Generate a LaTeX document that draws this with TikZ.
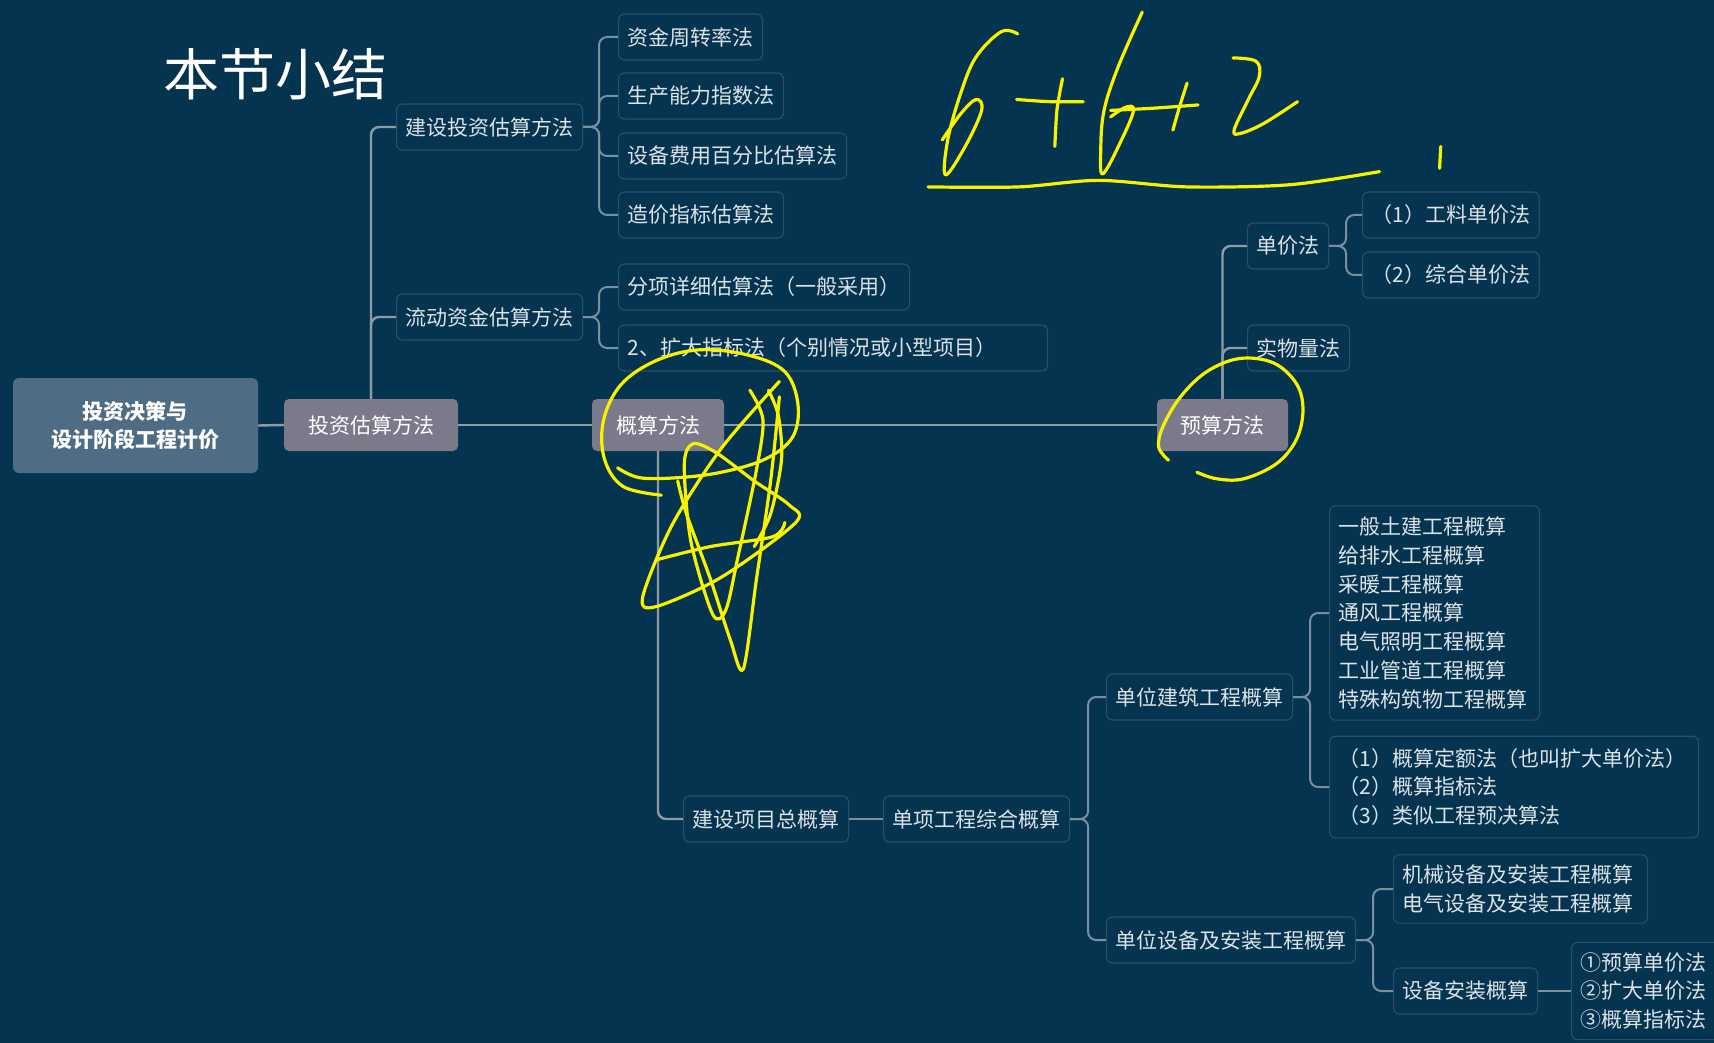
\documentclass[tikz,border=0pt]{standalone}
\usepackage{fontspec}
\setmainfont{Noto Sans CJK SC}
\definecolor{bg}{HTML}{053450}
\definecolor{rootc}{HTML}{4E6D84}
\definecolor{grayc}{HTML}{7B7A8B}
\definecolor{boxc}{HTML}{2A4F6B}
\definecolor{txtc}{HTML}{DCE2E7}
\definecolor{linec}{HTML}{8D9BA5}
\definecolor{brc}{HTML}{7890A0}
\definecolor{inkc}{HTML}{F6F200}
\tikzset{
  lvlroot/.style={fill=rootc, rounded corners=6pt, text=white, font=\fontsize{21}{28}\selectfont\bfseries, align=center, minimum width=245pt, minimum height=95pt},
  lvlone/.style={fill=grayc, rounded corners=5pt, text=white, font=\fontsize{21}{26}\selectfont, minimum height=52pt},
  subbox/.style={draw=boxc, line width=1.1pt, rounded corners=6pt, text=txtc, font=\fontsize{21}{28.8}\selectfont, minimum height=46pt, inner xsep=9pt, anchor=west},
  multibox/.style={subbox, align=left},
  conn/.style={draw=linec, line width=2.4pt, rounded corners=8pt},
  brline/.style={draw=brc, line width=2pt, rounded corners=8pt},
  ink/.style={draw=inkc, line width=3.2pt, line cap=round, line join=round},
}
\begin{document}
\begin{tikzpicture}[x=1pt,y=-1pt]
\clip (0,0) rectangle (1714,1043);
\fill[bg] (0,0) rectangle (1714,1043);

% title
\node[font=\fontsize{56}{60}\selectfont, text=white] (title) at (275,74) {本节小结};

% main nodes
\node[lvlroot] (root) at (135.5,425.5) {投资决策与\\设计阶段工程计价};
\node[lvlone, minimum width=174pt] (ts) at (371,425) {投资估算方法};
\node[lvlone, minimum width=132pt] (gs) at (658,425) {概算方法};
\node[lvlone, minimum width=131pt] (ys) at (1222.5,425) {预算方法};

% investment estimate subtree
\node[subbox] (jstz) at (396,127) {建设投资估算方法};
\node[subbox] (ldzj) at (396,317) {流动资金估算方法};
\node[subbox] (c1) at (618,37) {资金周转率法};
\node[subbox] (c2) at (618,96) {生产能力指数法};
\node[subbox] (c3) at (618,156) {设备费用百分比估算法};
\node[subbox] (c4) at (618,215) {造价指标估算法};
\node[subbox] (d1) at (618,287) {分项详细估算法（一般采用）};
\node[subbox, text width=411pt, align=left] (d2) at (618,348) {2、扩大指标法（个别情况或小型项目）};

% budget subtree
\node[subbox] (djf) at (1247,246) {单价法};
\node[subbox] (swl) at (1247,348) {实物量法};
\node[subbox] (gl1) at (1362,215) {（1）工料单价法};
\node[subbox] (gl2) at (1362,275) {（2）综合单价法};

% rough estimate subtree
\node[subbox] (jszgs) at (683,819) {建设项目总概算};
\node[subbox] (dxgc) at (883,819) {单项工程综合概算};
\node[subbox] (dwjz) at (1106,697) {单位建筑工程概算};
\node[subbox] (dwsb) at (1106,940) {单位设备及安装工程概算};
\node[multibox, text width=192pt, inner ysep=11pt] (m1) at (1329,613) {一般土建工程概算\\给排水工程概算\\采暖工程概算\\通风工程概算\\电气照明工程概算\\工业管道工程概算\\特殊构筑物工程概算};
\node[multibox, text width=351pt, inner ysep=12pt] (m2) at (1329,787) {（1）概算定额法（也叫扩大单价法）\\（2）概算指标法\\（3）类似工程预决算法};
\node[multibox, text width=236pt, inner ysep=10pt] (m3) at (1393,889) {机械设备及安装工程概算\\电气设备及安装工程概算};
\node[subbox] (sbaz) at (1393,991) {设备安装概算};
\node[multibox, text width=150pt, inner ysep=10pt] (m4) at (1571,991) {①预算单价法\\②扩大单价法\\③概算指标法};

% connectors
\draw[conn] (root.east) -- (ts.west);
\draw[conn] (ts.east) -- (gs.west);
\draw[conn] (gs.east) -- (ys.west);
\draw[conn] (ts.north) |- (jstz.west);
\draw[conn] (ts.north) |- (ldzj.west);
\draw[conn] (gs.south) |- (jszgs.west);
\draw[conn] (ys.north) |- (djf.west);
\draw[conn] (ys.north) |- (swl.west);

\foreach \c in {c1,c2,c3,c4} \draw[brline] (jstz.east) -- ++(16,0) |- (\c.west);
\foreach \c in {d1,d2} \draw[brline] (ldzj.east) -- ++(16,0) |- (\c.west);
\foreach \c in {gl1,gl2} \draw[brline] (djf.east) -- ++(17,0) |- (\c.west);
\draw[brline] (jszgs.east) -- (dxgc.west);
\foreach \c in {dwjz,dwsb} \draw[brline] (dxgc.east) -- ++(18,0) |- (\c.west);
\foreach \c in {m1,m2} \draw[brline] (dwjz.east) -- ++(17,0) |- (\c.west);
\foreach \c in {m3,sbaz} \draw[brline] (dwsb.east) -- ++(17,0) |- (\c.west);
\draw[brline] (sbaz.east) -- (m4.west);

% handwritten annotations
\begin{scope}[scale=1.0931]
% first 6
\draw[ink] plot[smooth, tension=0.6] coordinates {(931,31) (916,29) (893,52) (879,85) (867,128) (865,160) (883,134) (898,101) (893,91) (879,104) (862,128)};
% plus
\draw[ink] plot[smooth] coordinates {(930,91) (960,93) (991,93)};
\draw[ink] plot[smooth] coordinates {(972,72) (967,100) (965,134)};
% second 6
\draw[ink] plot[smooth, tension=0.6] coordinates {(1045,11) (1023,61) (1010,101) (1007,137) (1009,159) (1026,128) (1037,101) (1030,98) (1016,107)};
% plus
\draw[ink] plot[smooth] coordinates {(1016,101) (1055,99) (1096,96)};
\draw[ink] plot[smooth] coordinates {(1086,76) (1079,98) (1073,119)};
% 2
\draw[ink] plot[smooth, tension=0.6] coordinates {(1128,53) (1149,56) (1152,70) (1142,91) (1129,119) (1135,122) (1156,113) (1187,93)};
% underline
\draw[ink] plot[smooth] coordinates {(849,171) (932,171) (1005,165) (1086,171) (1180,169) (1262,157)};
% tick
\draw[ink] (1318,134) -- (1317,154);
% loop round rough-estimate method
\draw[ink] plot[smooth, tension=0.6] coordinates {(605,453) (570,445) (553,420) (552,385) (568,352) (600,330) (640,320) (685,325) (718,340) (730,370) (725,400) (700,420) (660,432) (620,437) (585,437) (565,428)};
% star scribble
\draw[ink] plot[smooth, tension=0.5] coordinates {(713,349) (660,410) (615,480) (588,546) (600,555) (660,528) (728,478) (722,462) (690,440) (655,414) (634,406) (626,425) (632,495) (652,562) (664,558) (675,510) (692,430) (698,384) (686,357)};
\draw[ink] plot[smooth, tension=0.5] coordinates {(713,363) (705,440) (692,530) (680,612) (668,585) (650,530) (628,470) (620,440)};
\draw[ink] plot[smooth, tension=0.5] coordinates {(601,512) (650,500) (707,491) (718,478)};
\draw[ink] plot[smooth, tension=0.5] coordinates {(703,357) (712,380) (715,420) (705,470) (690,500)};
% loop round budget method
\draw[ink] plot[smooth, tension=0.6] coordinates {(1069,421) (1060,409) (1064,390) (1080,363) (1104,340) (1134,328) (1165,332) (1186,351) (1192,375) (1186,402) (1168,424) (1138,438) (1113,438) (1095,432)};
\end{scope}
\end{tikzpicture}
\end{document}
